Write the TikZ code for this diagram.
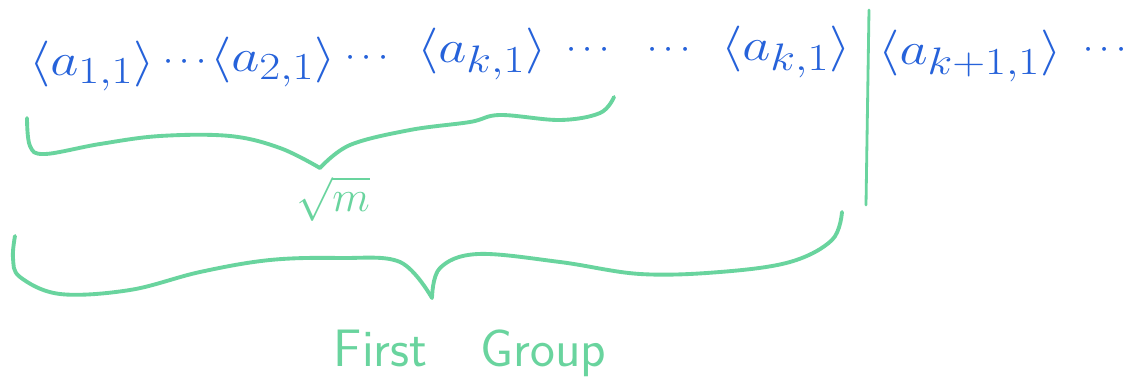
\documentclass[tikz,border=0pt]{standalone}
\usepackage{amsmath}
\definecolor{inkblue}{RGB}{38,98,218}
\definecolor{inkgreen}{RGB}{105,212,158}
\newcommand{\widepair}[1]{\scalebox{1.25}[1.05]{$\langle #1\rangle$}}
\begin{document}
\begin{tikzpicture}[x=0.02cm,y=-0.02cm,
  term/.style={text=inkblue,inner sep=0pt,font=\fontsize{31}{34}\selectfont},
  dots/.style={text=inkblue,inner sep=0pt,font=\fontsize{22}{26}\selectfont},
  label/.style={text=inkgreen,inner sep=0pt,font=\fontsize{30}{34}\selectfont},
  brace/.style={draw=inkgreen,line width=2.2pt,line cap=round,line join=round},
  divider/.style={draw=inkgreen,line width=1.6pt,line cap=round}]
\useasboundingbox (0,0) rectangle (1137,392);
\fill[white] (0,0) rectangle (1137,392);

% sequence of pairs
\node[term] (t1) at (92,66) {\widepair{a_{1,1}}};
\node[dots] (d1) at (188,62) {$\cdots$};
\node[term] (t2) at (273,62) {\widepair{a_{2,1}}};
\node[dots] (d2) at (370,58) {$\cdots$};
\node[term] (t3) at (482,54) {\widepair{a_{k,1}}};
\node[dots] (d3) at (591,50) {$\cdots$};
\node[dots] (d4) at (672,50) {$\cdots$};
\node[term] (t4) at (786,52) {\widepair{a_{k,1}}};
\node[term] (t5) at (970,56) {\widepair{a_{k+1,1}}};
\node[dots] (d5) at (1108,50) {$\cdots$};

% group boundary
\coordinate (sepTop) at (869,10);
\coordinate (sepBot) at (866,205);
\draw[divider] (sepTop) -- (sepBot);

% inner brace
\coordinate (ib) at (320,168);
\draw[brace] plot[smooth,tension=0.6] coordinates
  {(27,118) (30,146) (45,154) (100,144) (160,136) (230,136) (280,148) (320,168)};
\draw[brace] plot[smooth,tension=0.6] coordinates
  {(320,168) (350,145) (410,130) (470,122) (500,115) (560,120) (600,113) (614,97)};
\node[label,anchor=north] (sq) at (333,176) {$\sqrt{m}$};

% outer brace
\coordinate (ob) at (432,298);
\draw[brace] plot[smooth,tension=0.6] coordinates
  {(15,236) (13,258) (20,277) (60,294) (130,290) (200,272) (270,260) (340,258) (400,262) (432,298)};
\draw[brace] plot[smooth,tension=0.6] coordinates
  {(432,298) (440,268) (478,254) (560,262) (640,274) (720,272) (790,262) (832,240) (842,212)};
\node[label,anchor=north] (fg) at (470,330) {\textsf{First\quad Group}};
\end{tikzpicture}
\end{document}
